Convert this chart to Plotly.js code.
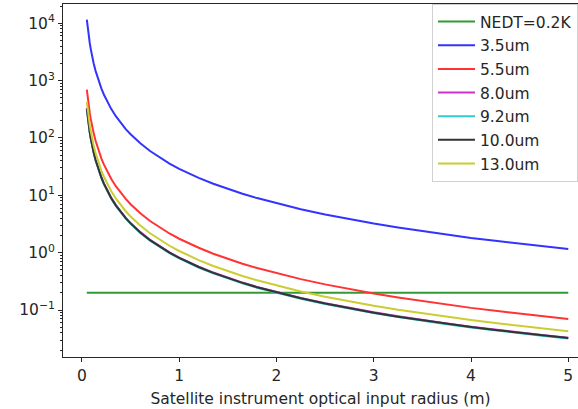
<!DOCTYPE html>
<html>
<head>
<meta charset="utf-8">
<script src="https://cdn.plot.ly/plotly-3.0.1.min.js"></script>
<style>html,body{margin:0;padding:0;background:#fff;}#chart{width:578px;height:409px;}</style>
</head>
<body>
<div id="chart"></div>
<script>
const radius = [0.05,0.055,0.06,0.065,0.07,0.08,0.09,0.1,0.11,0.12,0.14,0.16,0.18,0.2,0.225,0.25,0.275,0.3,0.35,0.4,0.45,0.5,0.6,0.7,0.8,0.9,1.0,1.1,1.2,1.35,1.5,1.65,1.8,2.0,2.25,2.5,2.75,3.0,3.25,3.5,3.75,4.0,4.25,4.5,4.75,5.0];
const nedtX = [0.05, 5.0];
const nedtY = [0.2, 0.2];
const v35 = [11600,9588,8056,6864,5919,4531,3582,2900,2397,2014,1480,1133,895,725,573,464,383,322,237,181,143,116,80.6,59.2,45.3,35.8,29.0,24.0,20.1,15.9,12.9,10.65,8.95,7.25,5.73,4.64,3.83,3.22,2.75,2.37,2.06,1.81,1.61,1.43,1.28,1.16];
const v55 = [700,578.6,486.1,414.2,357.2,273.4,216.1,175,144.6,121.5,89.3,68.4,54.0,43.75,34.6,28.0,23.1,19.4,14.3,10.9,8.64,7.00,4.86,3.57,2.73,2.16,1.75,1.45,1.22,0.960,0.778,0.643,0.540,0.438,0.346,0.280,0.231,0.194,0.166,0.143,0.124,0.109,0.0970,0.0864,0.0775,0.070];
const v80 = [328,271.1,227.8,194.1,167.4,128.1,101.3,82.0,67.8,56.9,41.8,32.0,25.3,20.5,16.2,13.1,10.8,9.11,6.69,5.13,4.05,3.28,2.28,1.67,1.28,1.01,0.82,0.678,0.569,0.450,0.364,0.301,0.253,0.205,0.162,0.131,0.108,0.0911,0.0777,0.0669,0.0583,0.0513,0.0454,0.0405,0.0363,0.0328];
const v92 = [318,262.8,220.8,188.2,162.3,124.2,98.2,79.5,65.7,55.2,40.6,31.1,24.5,19.9,15.7,12.7,10.5,8.83,6.49,4.97,3.93,3.18,2.21,1.62,1.24,0.982,0.795,0.657,0.552,0.436,0.353,0.292,0.245,0.199,0.157,0.127,0.105,0.0883,0.0753,0.0649,0.0565,0.0497,0.0440,0.0393,0.0352,0.0318];
const v100 = [324,267.8,225.0,191.7,165.3,126.6,100.0,81.0,66.9,56.2,41.3,31.6,25.0,20.3,16.0,12.96,10.7,9.0,6.61,5.06,4.0,3.24,2.25,1.65,1.27,1.0,0.81,0.669,0.5625,0.444,0.36,0.2975,0.25,0.2025,0.16,0.1296,0.107,0.090,0.0767,0.0661,0.0576,0.0506,0.0449,0.040,0.0359,0.0324];
const v130 = [428,353.7,297.2,253.3,218.4,167.2,132.1,107,88.4,74.3,54.6,41.8,33.0,26.75,21.1,17.1,14.1,11.9,8.73,6.69,5.28,4.28,2.97,2.18,1.67,1.32,1.07,0.884,0.743,0.587,0.476,0.393,0.330,0.268,0.211,0.171,0.141,0.119,0.101,0.0873,0.0761,0.0669,0.0593,0.0529,0.0474,0.0428];
const seriesNames = ["NEDT=0.2K","3.5um","5.5um","8.0um","9.2um","10.0um","13.0um"];
const yTickVals = [0.1,1,10,100,1000,10000];
const yTickText = ["10<sup>−1</sup>","10<sup>0</sup>","10<sup>1</sup>","10<sup>2</sup>","10<sup>3</sup>","10<sup>4</sup>"];
const xTickVals = [0,1,2,3,4,5];

const colors = ["rgb(51,153,51)","rgb(51,51,255)","rgb(255,51,51)","rgb(204,51,204)","rgb(51,204,204)","rgb(51,51,51)","rgb(204,204,51)"];
const ys = [null, v35, v55, v80, v92, v100, v130];

const traces = seriesNames.map((n, i) => ({
  type: 'scatter', mode: 'lines',
  x: i === 0 ? nedtX : radius,
  y: i === 0 ? nedtY : ys[i],
  name: n, legendgroup: 'g' + i,
  line: {color: colors[i], width: 2}
}));

const minorVals = [];
for (let e = -2; e <= 4; e++) for (let m = 2; m <= 9; m++) minorVals.push(m * Math.pow(10, e));

const FS = 15.5;
const layout = {
  width: 578, height: 409,
  margin: {l: 63, r: 0, t: 4, b: 52},
  paper_bgcolor: '#fff', plot_bgcolor: '#fff',
  font: {family: 'DejaVu Sans', size: FS, color: '#262626'},
  showlegend: true,
  legend: {x: 1, xanchor: 'right', y: 1, yanchor: 'top', bgcolor: 'rgba(255,255,255,0.8)',
           bordercolor: '#d0d0d0', borderwidth: 1, tracegroupgap: 0.5, itemwidth: 37,
           font: {family: 'DejaVu Sans', size: FS, color: '#262626'}},
  xaxis: {range: [-0.195, 5.10], tickvals: xTickVals, ticks: 'outside', ticklen: 4, tickcolor: '#262626',
          showline: true, linecolor: '#262626', linewidth: 1, mirror: true, showgrid: false, zeroline: false,
          tickfont: {size: FS},
          title: {text: 'Satellite instrument optical input radius (m)', font: {size: FS}, standoff: 9}},
  yaxis: {type: 'log', range: [-1.819, 4.336], tickvals: yTickVals, ticktext: yTickText,
          ticks: 'outside', ticklen: 4, tickcolor: '#262626', tickfont: {size: FS},
          showline: true, linecolor: '#262626', linewidth: 1, showgrid: false, zeroline: false,
          minor: {tickvals: minorVals, ticks: 'outside', ticklen: 2, tickcolor: '#262626', showgrid: false}}
};
Plotly.newPlot('chart', traces, layout, {displayModeBar: false, staticPlot: true});
</script>
</body>
</html>
